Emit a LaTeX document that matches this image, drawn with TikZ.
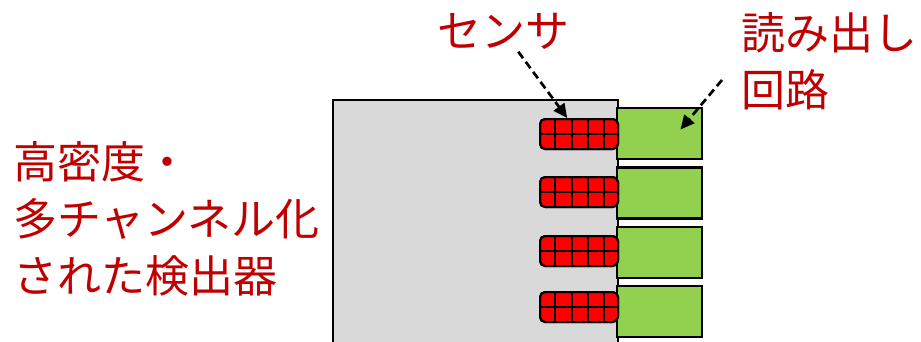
\documentclass[tikz,border=0pt]{standalone}
\usepackage{fontspec}
\newfontfamily\jpfont{Noto Sans CJK JP}
\usetikzlibrary{arrows.meta}
\definecolor{labelred}{HTML}{C00000}
\definecolor{sensorred}{HTML}{FF0000}
\definecolor{readgreen}{HTML}{92D050}
\definecolor{detgray}{HTML}{D9D9D9}
\tikzset{
  jptext/.style={text=labelred, font=\jpfont\fontsize{44}{57}\selectfont, inner sep=0pt, align=left},
  detbox/.style={draw, line width=1.6pt, fill=detgray, minimum width=285pt, minimum height=300pt, inner sep=0pt},
  sensorbox/.style={draw, line width=2pt, fill=sensorred, rounded corners=5pt, minimum width=78pt, minimum height=30pt, inner sep=0pt},
  readbox/.style={draw, line width=2.2pt, fill=readgreen, minimum width=85pt, minimum height=51pt, inner sep=0pt},
  gridline/.style={line width=1.2pt},
  pointer/.style={line width=2.7pt, dash pattern=on 8pt off 4.5pt, -{Triangle[length=14pt,width=13pt]}},
}

\begin{document}
\begin{tikzpicture}[x=1pt,y=-1pt]
\useasboundingbox (0,0) rectangle (921,341);

% detector body (runs off the bottom)
\node [detbox] (detector) at (475.5,250) {};

% readout chips and sensors
\foreach \i/\sy/\ry in {1/134/133.5, 2/192/193, 3/251/252.5, 4/307/311.5}{
  \node [readbox] (readout\i) at (659.5,\ry) {};
  \node [sensorbox] (sensor\i) at (579,\sy) {};
  \foreach \c in {16,33,49,65}
    \draw [gridline] ([xshift=\c pt]sensor\i.north west) -- ([xshift=\c pt]sensor\i.south west);
  \draw [gridline] (sensor\i.west) -- (sensor\i.east);
  \node [sensorbox, fill=none] at (sensor\i) {};
}

% labels
\node [jptext] (sensorlabel) at (503,31) {センサ};
\node [jptext, anchor=west] (readlabel) at (741,61) {読み出し\\回路};
\node [jptext, anchor=west] (detlabel) at (13,219) {高密度・\\多チャンネル化\\された検出器};

% pointers
\coordinate (readtail) at (722,80);
\coordinate (readtip) at ([xshift=21pt,yshift=4pt]readout1.center);
\draw [pointer, shorten <=3pt] (sensorlabel) -- (sensor1);
\draw [pointer] (readtail) -- (readtip);
\end{tikzpicture}
\end{document}
